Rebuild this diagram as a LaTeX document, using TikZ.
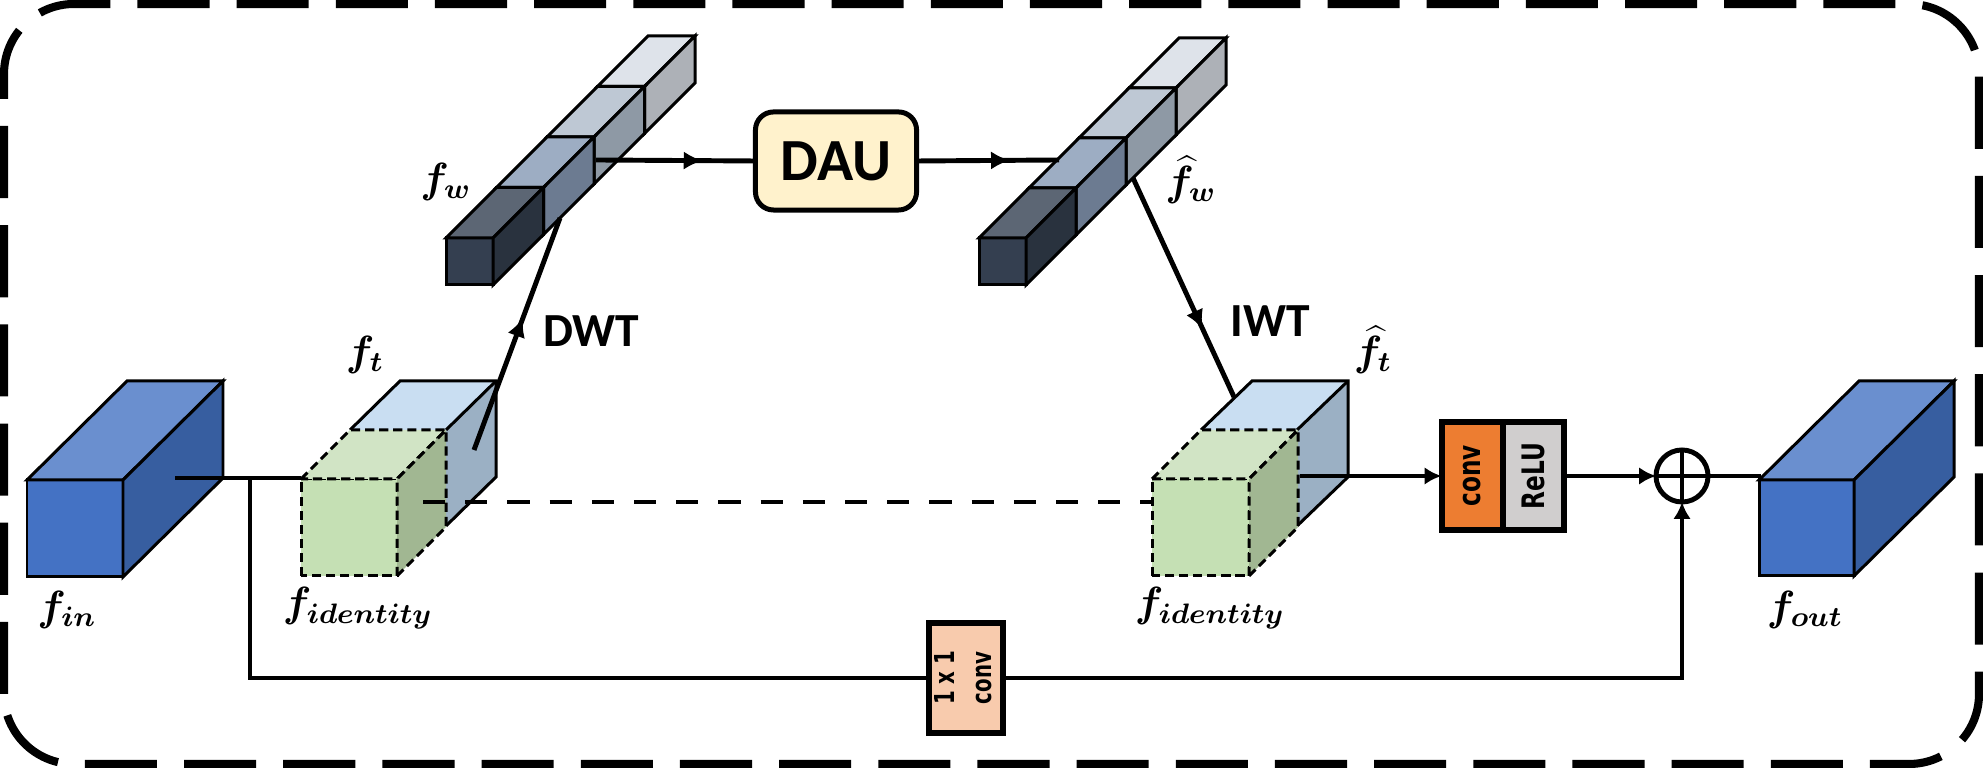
\documentclass[tikz,border=0pt]{standalone}
\usepackage{fontspec}
\usepackage{graphicx}
\usetikzlibrary{arrows.meta,positioning,decorations.markings}
\newfontfamily\carlito{Carlito}
\newfontfamily\dejavu{DejaVu Sans}

\definecolor{finfront}{RGB}{68,114,196}
\definecolor{fintop}{RGB}{106,143,207}
\definecolor{finside}{RGB}{55,94,160}
\definecolor{ttop}{RGB}{201,222,242}
\definecolor{tside}{RGB}{155,176,196}
\definecolor{idfront}{RGB}{197,224,180}
\definecolor{idtop}{RGB}{209,228,197}
\definecolor{idside}{RGB}{161,183,146}
\definecolor{wfront}{RGB}{52,63,80}
\definecolor{wtopa}{RGB}{92,102,116}
\definecolor{wsidea}{RGB}{41,50,62}
\definecolor{wtopb}{RGB}{157,173,195}
\definecolor{wsideb}{RGB}{108,123,145}
\definecolor{wtopc}{RGB}{190,200,212}
\definecolor{wsidec}{RGB}{142,153,165}
\definecolor{wtopd}{RGB}{222,227,234}
\definecolor{wsided}{RGB}{173,177,183}
\definecolor{daufill}{RGB}{255,242,204}
\definecolor{convfill}{RGB}{237,125,49}
\definecolor{relufill}{RGB}{208,206,206}
\definecolor{onefill}{RGB}{248,203,173}

\tikzset{
  cubeline/.style={draw=black, line width=0.85pt},
  flow/.style={line width=1.4pt},
  midtip/.style={postaction={decorate},
    decoration={markings, mark=at position #1 with {\arrow{Latex[length=5.4pt,width=5.2pt]}}}},
  maths/.style={font=\boldmath\fontsize{12}{14}\selectfont, inner sep=0pt},
  opname/.style={font=\carlito\bfseries\fontsize{13.5}{16}\selectfont, inner sep=0pt},
  daubox/.style={draw, line width=1.42pt, rounded corners=0.18cm, fill=daufill,
    minimum width=1.61cm, minimum height=0.98cm, inner sep=0pt,
    font=\carlito\bfseries\fontsize{17}{20}\selectfont},
  actbox/.style={draw, line width=1.7pt, minimum width=0.61cm, minimum height=1.08cm,
    inner sep=0pt, outer sep=0pt, font=\dejavu\bfseries\fontsize{8.8}{10}\selectfont},
  onebox/.style={draw, line width=1.7pt, fill=onefill, minimum width=0.61cm,
    minimum height=1.09cm, inner sep=0pt, outer sep=0pt,
    font=\dejavu\bfseries\fontsize{7.8}{10.5}\selectfont},
  plusnode/.style={circle, draw, line width=1.4pt, minimum size=0.52cm,
    inner sep=0pt, outer sep=0pt}
}

% front face at (#1,#2), size #3 x #4, depth (#5,#6), colours front/top/side
\newcommand{\featcube}[9]{%
  \filldraw[cubeline, fill=#7] (#1,#2) rectangle ++(#3,#4);
  \filldraw[cubeline, fill=#8] (#1,#2+#4) -- ++(#5,#6) -- ++(#3,0) -- ++(-#5,-#6) -- cycle;
  \filldraw[cubeline, fill=#9] (#1+#3,#2) -- ++(#5,#6) -- ++(0,#4) -- ++(-#5,-#6) -- cycle;
}
% cube whose front face is hidden
\newcommand{\backcube}[8]{%
  \fill[#7] (#1,#2+#4) -- ++(#5,#6) -- ++(#3,0) -- ++(-#5,-#6) -- cycle;
  \fill[#8] (#1+#3,#2) -- ++(#5,#6) -- ++(0,#4) -- ++(-#5,-#6) -- cycle;
  \draw[cubeline] (#1,#2+#4) -- ++(#5,#6) -- ++(#3,0) -- ++(0,-#4) -- ++(-#5,-#6);
  \draw[cubeline] (#1+#3,#2+#4) -- ++(#5,#6);
}

\begin{document}
\begin{tikzpicture}[x=0.01cm, y=0.01cm]
\useasboundingbox (0,0) rectangle (1983,768);
% frame
\draw[line width=2.3pt, dash pattern=on 20.5pt off 7.7pt, rounded corners=0.7cm] (4,4) rectangle (1979,764);

% input and output
\featcube{27}{191}{96}{97}{100}{99}{finfront}{fintop}{finside}
\featcube{1759}{192}{95}{96}{100}{99}{finfront}{fintop}{finside}

% f_t and identity
\backcube{350}{242}{96}{96}{50}{49}{ttop}{tside}
\backcube{1201}{242}{96}{96}{51}{49}{ttop}{tside}
\begin{scope}[cubeline/.append style={dash pattern=on 2.6pt off 1.4pt}]
\featcube{301}{192}{96}{97}{49}{49}{idfront}{idtop}{idside}
\featcube{1152}{192}{97}{97}{49}{49}{idfront}{idtop}{idside}
\end{scope}

% wavelet bands
\foreach \k/\tp/\sd in {3/wtopd/wsided, 2/wtopc/wsidec, 1/wtopb/wsideb, 0/wtopa/wsidea}{
  \featcube{446+50.5*\k}{483+50.5*\k}{47}{47}{50.5}{50.5}{wfront}{\tp}{\sd}
  \featcube{979+50*\k}{483+50*\k}{47}{47}{50}{50}{wfront}{\tp}{\sd}
}

% ends of the connectors
\coordinate (fin) at (175,290);
\coordinate (ftin) at (301,290);
\coordinate (split) at (250,290);
\coordinate (ftup) at (474,318);
\coordinate (fwdown) at (560,550);
\coordinate (fwout) at (596,608);
\coordinate (fhwin) at (1059,608);
\coordinate (fhwdown) at (1133,590);
\coordinate (fhtin) at (1234,371);
\coordinate (idl) at (423,266);
\coordinate (idr) at (1152,266);
\coordinate (fhtout) at (1300,292);
\coordinate (fout) at (1761,292);

% blocks
\node[daubox] (dau) at (836,607) {DAU};
\node[actbox, fill=convfill] (conv) at (1472,292) {\rotatebox{90}{\scalebox{0.75}[1]{conv}}};
\node[actbox, fill=relufill, right=0pt of conv] (relu) {\rotatebox{90}{\scalebox{0.75}[1]{ReLU}}};
\node[plusnode] (plus) at (1682,292) {};
\node[onebox] (conv11) at (966,90) {\rotatebox{90}{\begin{tabular}{@{}c@{}}\scalebox{0.72}[1]{1 x 1}\\\scalebox{0.72}[1]{conv}\end{tabular}}};

% connectors
\draw[flow] (fin) -- (ftin);
\draw[flow] (split) |- (conv11.west);
\draw[flow, -{Latex[length=4.8pt,width=5pt]}] (conv11.east) -| (plus.south);
\draw[flow, midtip=0.57] (ftup) -- (fwdown);
\draw[flow, midtip=0.68] (fwout) -- (dau.west);
\draw[flow, midtip=0.65] (dau.east) -- (fhwin);
\draw[flow, midtip=0.69] (fhwdown) -- (fhtin);
\draw[flow, dash pattern=on 6.3pt off 5.7pt] (idl) -- (idr);
\draw[flow, -{Latex[length=4.8pt,width=5pt]}] (fhtout) -- (conv.west);
\draw[flow, -{Latex[length=4.8pt,width=5pt]}] (relu.east) -- (plus.west);
\draw[flow] (plus.east) -- (fout);
\draw[flow] (plus.north) -- (plus.south) (plus.west) -- (plus.east);

% labels
\node[maths] (lfw) at (446,586) {$f_{w}$};
\node[maths] (lfhw) at (1191,588) {$\widehat{f}_{w}$};
\node[maths] (lft) at (365,413) {$f_{t}$};
\node[maths] (lfht) at (1373,418) {$\widehat{f}_{t}$};
\node[maths] (lfin) at (67,158) {$f_{in}$};
\node[maths] (lidl) at (358,160) {$f_{identity}$};
\node[maths] (lidr) at (1210,160) {$f_{identity}$};
\node[maths] (lfout) at (1805,158) {$f_{out}$};
\node[opname] (ldwt) at (591,437) {DWT};
\node[opname] (liwt) at (1270,447) {IWT};
\end{tikzpicture}
\end{document}
